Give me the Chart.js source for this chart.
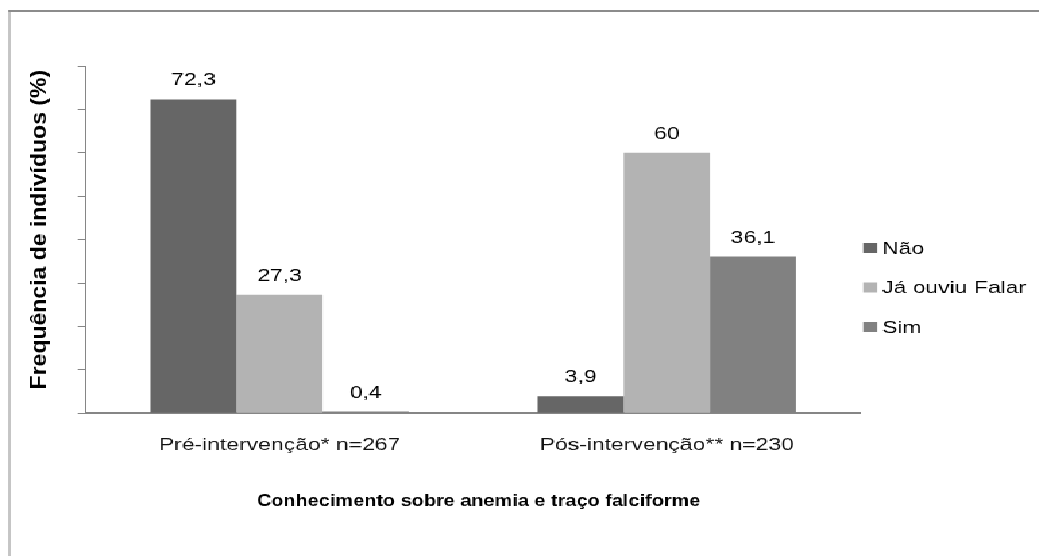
<!DOCTYPE html>
<html>
<head>
<meta charset="utf-8">
<script src="https://cdn.jsdelivr.net/npm/chart.js@4.4.1/dist/chart.umd.min.js"></script>
<style>
html, body { margin: 0; padding: 0; background: #ffffff; overflow: hidden; }
#c { display: block; image-rendering: pixelated; }
</style>
</head>
<body>
<canvas id="c" width="770" height="556" style="width:1039px;height:556px"></canvas>
<script>
// ---- data ----
const categories = ['Pré-intervenção* n=267', 'Pós-intervenção** n=230'];
const seriesNames = ['Não', 'Já ouviu Falar', 'Sim'];
const naoValues = [72.3, 3.9];
const jaOuviuValues = [27.3, 60];
const simValues = [0.4, 36.1];
const yMin = 0;
const yMax = 80;
const yStep = 10;
const yTitle = 'Frequência de indivíduos (%)';
const xTitle = 'Conhecimento sobre anemia e traço falciforme';

// ---- styles ----
const seriesColors = ['#666666', '#b3b3b3', '#818181'];
const axisGray = '#868686';
const FONT = '"Liberation Sans", Arial, sans-serif';
const CSS_STRETCH = 1039 / 770;

const bgFramePlugin = {
  id: 'bgFrame',
  beforeDraw(chart) {
    const ctx = chart.ctx;
    ctx.save();
    ctx.fillStyle = '#ffffff';
    ctx.fillRect(0, 0, chart.width, chart.height);
    ctx.strokeStyle = '#8c8c8c';
    ctx.lineWidth = 2;
    ctx.beginPath();
    ctx.moveTo(6.2, 11);
    ctx.lineTo(chart.width, 11);
    ctx.stroke();
    ctx.lineWidth = 1;
    ctx.beginPath();
    ctx.moveTo(7, 10);
    ctx.lineTo(7, chart.height);
    ctx.stroke();
    ctx.restore();
  }
};

const valueLabelPlugin = {
  id: 'valueLabels',
  afterDatasetsDraw(chart) {
    const ctx = chart.ctx;
    ctx.save();
    ctx.font = '17px ' + FONT;
    ctx.fillStyle = '#000000';
    ctx.textAlign = 'center';
    ctx.textBaseline = 'alphabetic';
    chart.data.datasets.forEach((ds, i) => {
      const meta = chart.getDatasetMeta(i);
      meta.data.forEach((bar, j) => {
        const txt = String(ds.data[j]).replace('.', ',');
        ctx.fillText(txt, bar.x, bar.y - 14);
      });
    });
    ctx.restore();
  }
};

const sideLegendPlugin = {
  id: 'sideLegend',
  afterDraw(chart) {
    const ctx = chart.ctx;
    const area = chart.chartArea;
    ctx.save();
    ctx.font = '17px ' + FONT;
    ctx.textBaseline = 'middle';
    ctx.textAlign = 'left';
    const x0 = area.right + 2;
    const y0 = 248;
    const rowGap = 39.5;
    chart.data.datasets.forEach((ds, i) => {
      const cy = y0 + i * rowGap;
      ctx.fillStyle = ds.backgroundColor;
      ctx.fillRect(x0, cy - 5, 10.4, 10);
      ctx.fillStyle = '#000000';
      ctx.fillText(ds.label, x0 + 14, cy + 1);
    });
    ctx.restore();
  }
};

// axis titles, drawn with their own proportions (not stretched like the rest)
const axisTitlePlugin = {
  id: 'axisTitles',
  afterDraw(chart) {
    const ctx = chart.ctx;
    const area = chart.chartArea;
    ctx.save();
    ctx.fillStyle = '#000000';
    ctx.textAlign = 'center';
    ctx.textBaseline = 'middle';
    // y title
    ctx.save();
    ctx.translate(40 / CSS_STRETCH, (area.top + area.bottom) / 2 - 10);
    ctx.scale(1 / CSS_STRETCH, 1);
    ctx.rotate(-Math.PI / 2);
    ctx.font = 'bold 23px ' + FONT;
    ctx.fillText(yTitle, 0, 0);
    ctx.restore();
    // x title
    ctx.save();
    ctx.translate((area.left + area.right) / 2 + 4, 501);
    ctx.scale(1.17 / CSS_STRETCH, 1);
    ctx.font = 'bold 17px ' + FONT;
    ctx.fillText(xTitle, 0, 0);
    ctx.restore();
    ctx.restore();
  }
};

const valueSeries = [naoValues, jaOuviuValues, simValues];

new Chart(document.getElementById('c'), {
  type: 'bar',
  data: {
    labels: categories,
    datasets: seriesNames.map((name, i) => ({
      label: name,
      data: valueSeries[i],
      backgroundColor: seriesColors[i],
      borderWidth: 0,
      categoryPercentage: 0.667,
      barPercentage: 1.0
    }))
  },
  options: {
    responsive: false,
    devicePixelRatio: 1,
    animation: false,
    layout: { padding: { left: 7, right: 132.3, top: 66, bottom: 10 } },
    plugins: {
      legend: { display: false },
      tooltip: { enabled: false },
      title: { display: false }
    },
    scales: {
      x: {
        grid: { display: false, drawTicks: false },
        border: { display: true, color: axisGray, width: 2 },
        ticks: {
          color: '#111111',
          font: { family: FONT, size: 17 },
          padding: 22,
          maxRotation: 0,
          autoSkip: false
        },
        title: { display: false, text: xTitle },
        afterFit(scale) { scale.height = 556 - 10 - 413.3; }
      },
      y: {
        min: yMin,
        max: yMax,
        ticks: { display: false, stepSize: yStep },
        grid: {
          display: true,
          drawOnChartArea: false,
          drawTicks: true,
          tickLength: 6,
          color: axisGray,
          lineWidth: 1
        },
        border: { display: true, color: axisGray, width: 1 },
        title: { display: false, text: yTitle },
        afterFit(scale) { scale.width = 63.7 - 7; }
      }
    }
  },
  plugins: [bgFramePlugin, valueLabelPlugin, sideLegendPlugin, axisTitlePlugin]
});
</script>
</body>
</html>
